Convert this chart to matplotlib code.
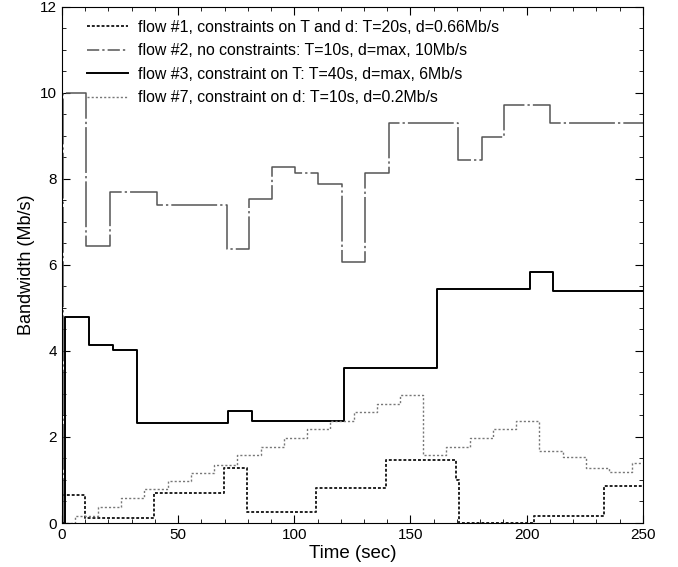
import matplotlib.pyplot as plt
from matplotlib.ticker import MultipleLocator

plt.rcParams['font.family'] = ['Liberation Sans', 'DejaVu Sans']

# flow #1: constraints on T and d
t1 = [0, 9.9, 39.6, 69.7, 79.5, 109.3, 139.4, 169.8, 170.8, 203.2, 233.4, 250]
bw1 = [0.65, 0.11, 0.70, 1.27, 0.26, 0.81, 1.47, 1.0, 0.0, 0.17, 0.85, 0.85]

# flow #2: no constraints
t2 = [0, 0.5, 10.3, 20.7, 40.7, 70.9, 80.6, 90.5, 100.5, 110.4, 120.6,
      130.4, 140.7, 170.5, 180.6, 190.3, 210.2, 250]
bw2 = [0.0, 10.0, 6.43, 7.7, 7.4, 6.38, 7.53, 8.28, 8.13, 7.88, 6.07,
       8.13, 9.3, 8.45, 8.97, 9.73, 9.3, 9.3]

# flow #3: constraint on T
t3 = [0, 1.5, 11.7, 21.8, 32.1, 71.6, 81.9, 121.3, 161.5, 201.5, 211.4, 250]
bw3 = [0.0, 4.8, 4.15, 4.02, 2.33, 2.6, 2.38, 3.6, 5.43, 5.83, 5.4, 5.4]

# flow #7: constraint on d
t7 = [0, 5.5, 15.5, 25.5, 35.5, 45.5, 55.5, 65.5, 75.5, 85.5, 95.5, 105.5,
      115.5, 125.5, 135.5, 145.5, 155.5, 165.5, 175.5, 185.5, 195.5, 205.5,
      215.5, 225.5, 235.5, 245.5, 250]
bw7 = [0.0, 0.16, 0.37, 0.57, 0.78, 0.98, 1.17, 1.36, 1.57, 1.77, 1.97, 2.18,
       2.37, 2.57, 2.77, 2.98, 1.57, 1.77, 1.98, 2.19, 2.38, 1.67,
       1.53, 1.27, 1.19, 1.39, 1.39]

labels = ["flow #1, constraints on T and d: T=20s, d=0.66Mb/s",
          "flow #2, no constraints: T=10s, d=max, 10Mb/s",
          "flow #3, constraint on T: T=40s, d=max, 6Mb/s",
          "flow #7, constraint on d: T=10s, d=0.2Mb/s"]

fig = plt.figure(figsize=(6.78, 5.67), dpi=100)
ax = fig.add_axes([0.0914, 0.0776, 0.8566, 0.9101])

ax.step(t1, bw1, where='post', color='#222222', lw=1.4,
        linestyle=(0, (1.5, 1)), label=labels[0])
ax.step(t2, bw2, where='post', color='#555555', lw=1.1,
        linestyle=(0, (30, 2, 1.5, 2)), label=labels[1])
ax.step(t3, bw3, where='post', color='black', lw=1.4, label=labels[2])
ax.step(t7, bw7, where='post', color='#777777', lw=1.0,
        linestyle=(0, (1.5, 1.5)), label=labels[3])

ax.set_xlim(0, 250)
ax.set_ylim(0, 12)
ax.xaxis.set_major_locator(MultipleLocator(50))
ax.xaxis.set_minor_locator(MultipleLocator(10))
ax.yaxis.set_major_locator(MultipleLocator(2))
ax.yaxis.set_minor_locator(MultipleLocator(0.5))
ax.tick_params(which='both', direction='in', top=True, right=True, labelsize=11)
ax.tick_params(which='major', length=6)
ax.tick_params(which='minor', length=3)
ax.set_xlabel('Time (sec)', fontsize=13.5, labelpad=2)
ax.set_ylabel('Bandwidth (Mb/s)', fontsize=13, labelpad=4)

leg = ax.legend(loc='upper left', bbox_to_anchor=(0.043, 0.975), frameon=False,
                fontsize=11.4, handlelength=2.6, handletextpad=0.65,
                labelspacing=0.53, borderpad=0, borderaxespad=0)
# the legend sample for flow #2 reads better with a shorter dash pattern
leg.get_lines()[1].set_linestyle((0, (8, 2, 1.5, 2)))

fig.savefig('out.png', dpi=100)
